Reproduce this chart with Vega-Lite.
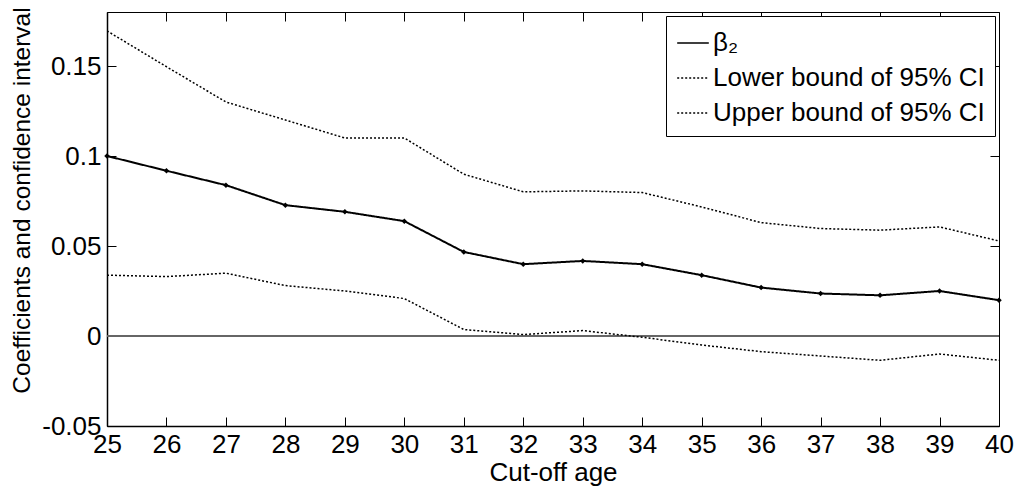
{
  "$schema": "https://vega.github.io/schema/vega-lite/v6.json",
  "width": 892,
  "height": 414,
  "autosize": {"type": "none"},
  "padding": {"left": 107, "top": 12, "right": 19, "bottom": 63},
  "background": "white",
  "config": {
    "font": "Liberation Sans",
    "view": {"stroke": "black", "strokeWidth": 1},
    "axis": {"grid": false, "labelFont": "Liberation Sans", "titleFont": "Liberation Sans", "labelFontSize": 26, "titleFontSize": 26, "titleFontWeight": "normal", "labelColor": "black", "titleColor": "black", "domainColor": "black", "tickColor": "black", "labelFlush": false, "labelOverlap": false}
  },
  "datasets": {
    "series": [
      {"age": 25, "series": "β₂", "value": 0.1},
      {"age": 26, "series": "β₂", "value": 0.0918},
      {"age": 27, "series": "β₂", "value": 0.0838},
      {"age": 28, "series": "β₂", "value": 0.0727},
      {"age": 29, "series": "β₂", "value": 0.069},
      {"age": 30, "series": "β₂", "value": 0.0638},
      {"age": 31, "series": "β₂", "value": 0.0467},
      {"age": 32, "series": "β₂", "value": 0.0399},
      {"age": 33, "series": "β₂", "value": 0.0417},
      {"age": 34, "series": "β₂", "value": 0.0399},
      {"age": 35, "series": "β₂", "value": 0.0338},
      {"age": 36, "series": "β₂", "value": 0.0269},
      {"age": 37, "series": "β₂", "value": 0.0236},
      {"age": 38, "series": "β₂", "value": 0.0226},
      {"age": 39, "series": "β₂", "value": 0.025},
      {"age": 40, "series": "β₂", "value": 0.0199},
      {"age": 25, "series": "Lower bound of 95% CI", "value": 0.0338},
      {"age": 26, "series": "Lower bound of 95% CI", "value": 0.033},
      {"age": 27, "series": "Lower bound of 95% CI", "value": 0.0349},
      {"age": 28, "series": "Lower bound of 95% CI", "value": 0.028},
      {"age": 29, "series": "Lower bound of 95% CI", "value": 0.025},
      {"age": 30, "series": "Lower bound of 95% CI", "value": 0.0208},
      {"age": 31, "series": "Lower bound of 95% CI", "value": 0.0036},
      {"age": 32, "series": "Lower bound of 95% CI", "value": 0.0008},
      {"age": 33, "series": "Lower bound of 95% CI", "value": 0.003},
      {"age": 34, "series": "Lower bound of 95% CI", "value": -0.0007},
      {"age": 35, "series": "Lower bound of 95% CI", "value": -0.005},
      {"age": 36, "series": "Lower bound of 95% CI", "value": -0.0087},
      {"age": 37, "series": "Lower bound of 95% CI", "value": -0.0111},
      {"age": 38, "series": "Lower bound of 95% CI", "value": -0.0135},
      {"age": 39, "series": "Lower bound of 95% CI", "value": -0.01},
      {"age": 40, "series": "Lower bound of 95% CI", "value": -0.0135},
      {"age": 25, "series": "Upper bound of 95% CI", "value": 0.1695},
      {"age": 26, "series": "Upper bound of 95% CI", "value": 0.1496},
      {"age": 27, "series": "Upper bound of 95% CI", "value": 0.13},
      {"age": 28, "series": "Upper bound of 95% CI", "value": 0.12},
      {"age": 29, "series": "Upper bound of 95% CI", "value": 0.11},
      {"age": 30, "series": "Upper bound of 95% CI", "value": 0.11},
      {"age": 31, "series": "Upper bound of 95% CI", "value": 0.0899},
      {"age": 32, "series": "Upper bound of 95% CI", "value": 0.0801},
      {"age": 33, "series": "Upper bound of 95% CI", "value": 0.0806},
      {"age": 34, "series": "Upper bound of 95% CI", "value": 0.0797},
      {"age": 35, "series": "Upper bound of 95% CI", "value": 0.0717},
      {"age": 36, "series": "Upper bound of 95% CI", "value": 0.063},
      {"age": 37, "series": "Upper bound of 95% CI", "value": 0.0597},
      {"age": 38, "series": "Upper bound of 95% CI", "value": 0.0588},
      {"age": 39, "series": "Upper bound of 95% CI", "value": 0.0606},
      {"age": 40, "series": "Upper bound of 95% CI", "value": 0.0528}
    ]
  },
  "data": {"name": "series"},
  "resolve": {"axis": {"x": "independent", "y": "independent"}},
  "layer": [
    {
      "mark": {"type": "rule", "color": "#666666", "strokeWidth": 1},
      "encoding": {"y": {"datum": 0, "type": "quantitative", "scale": {"domain": [-0.05, 0.18], "nice": false, "zero": false}, "axis": null}}
    },
    {
      "mark": {"type": "line", "color": "black", "clip": true},
      "encoding": {
        "x": {"field": "age", "type": "quantitative", "scale": {"domain": [25, 40], "nice": false, "zero": false},
              "axis": {"orient": "bottom", "title": "Cut-off age", "values": [25,26,27,28,29,30,31,32,33,34,35,36,37,38,39,40], "format": "d", "tickSize": -9, "labelPadding": 14, "titlePadding": 2, "domainWidth": 1.5}},
        "y": {"field": "value", "type": "quantitative", "scale": {"domain": [-0.05, 0.18], "nice": false, "zero": false},
              "axis": {"orient": "left", "title": "Coefficients and confidence interval", "titleFontSize": 24.5, "values": [-0.05, 0, 0.05, 0.1, 0.15], "labelExpr": "datum.value < 0 ? '-' + format(-datum.value, '~g') : format(datum.value, '~g')", "tickSize": -9, "labelPadding": 15, "titlePadding": 7, "titleY": 188, "domainWidth": 1.5}},
        "detail": {"field": "series"},
        "strokeDash": {"field": "series", "type": "nominal",
          "scale": {"domain": ["β₂", "Lower bound of 95% CI", "Upper bound of 95% CI"], "range": [[1, 0], [2, 2], [2, 2]]},
          "legend": {"title": null, "orient": "top-right", "offset": 4, "labelFontSize": 26, "labelFont": "Liberation Sans", "labelColor": "black", "labelLimit": 400, "symbolType": "stroke", "symbolSize": 1000, "symbolStrokeColor": "black", "symbolStrokeWidth": 1.5, "strokeColor": "black", "fillColor": "white", "padding": 10, "rowPadding": 5, "labelOffset": 3}},
        "strokeWidth": {"condition": {"test": "datum.series === 'β₂'", "value": 2}, "value": 1.5}
      }
    },
    {
      "transform": [{"filter": "datum.series === 'β₂'"}],
      "mark": {"type": "point", "shape": "diamond", "filled": true, "color": "black", "size": 30, "opacity": 1},
      "encoding": {
        "x": {"field": "age", "type": "quantitative", "axis": {"orient": "top", "title": null, "labels": false, "values": [25,26,27,28,29,30,31,32,33,34,35,36,37,38,39,40], "tickSize": -9, "domain": false}},
        "y": {"field": "value", "type": "quantitative", "axis": {"orient": "right", "title": null, "labels": false, "values": [-0.05, 0, 0.05, 0.1, 0.15], "tickSize": -9, "domain": false}}
      }
    }
  ]
}
